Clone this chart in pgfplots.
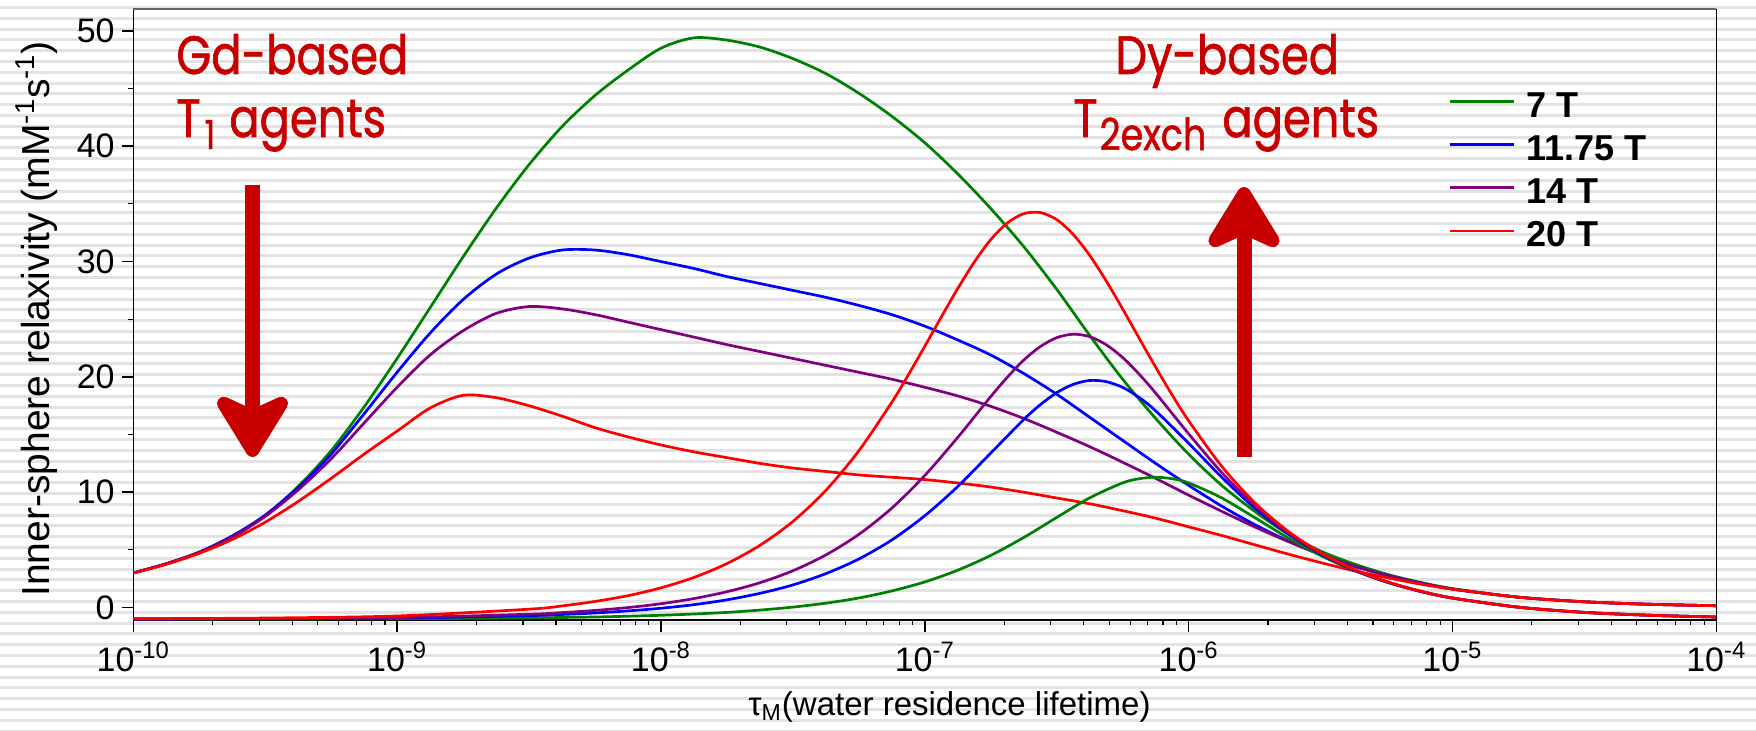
\documentclass[border=0pt]{standalone}
\usepackage{fontspec}
\setmainfont{Liberation Sans}
\newfontfamily\handfont[FakeStretch=0.83, FakeBold=1.2]{Poppins}
\usepackage{pgfplots}
\pgfplotsset{compat=1.18}
\usetikzlibrary{arrows.meta}

\definecolor{cG}{RGB}{0,128,0}
\definecolor{cB}{RGB}{0,0,255}
\definecolor{cP}{RGB}{128,0,128}
\definecolor{cR}{RGB}{255,0,0}
\definecolor{annot}{RGB}{200,0,0}
\definecolor{stripe}{RGB}{226,226,226}
\definecolor{topline}{RGB}{100,100,100}

% Gd-based (T1) relaxivity curves: tau_M  r
\pgfplotstableread{
t r
1e-10 3.0
1.334e-10 3.8
1.778e-10 4.8
2.371e-10 6.2
3.162e-10 8.0
4.217e-10 10.5
5.623e-10 13.6
7.499e-10 17.4
1e-9 21.6
1.334e-9 26.0
1.778e-9 30.4
2.371e-9 34.6
3.162e-9 38.4
4.217e-9 41.7
5.623e-9 44.4
7.499e-9 46.6
1e-8 48.5
1.334e-8 49.4
1.778e-8 49.2
2.371e-8 48.6
3.162e-8 47.6
4.217e-8 46.3
5.623e-8 44.6
7.499e-8 42.6
1e-7 40.3
1.334e-7 37.6
1.778e-7 34.6
2.371e-7 31.3
3.162e-7 27.6
4.217e-7 23.6
5.623e-7 19.8
7.499e-7 16.4
1e-6 13.3
1.334e-6 10.6
1.778e-6 8.35
2.371e-6 6.4
3.162e-6 4.9
4.217e-6 3.8
5.623e-6 2.9
7.499e-6 2.2
1e-5 1.65
1.778e-5 0.9
3.162e-5 0.5
5.623e-5 0.28
1e-4 0.16
}\gdSeven
\pgfplotstableread{
t r
1e-10 3.0
1.334e-10 3.8
1.778e-10 4.8
2.371e-10 6.2
3.162e-10 8.0
4.217e-10 10.4
5.623e-10 13.3
7.499e-10 16.8
1e-9 20.4
1.334e-9 23.8
1.778e-9 26.7
2.371e-9 28.9
3.162e-9 30.3
4.217e-9 31.0
5.623e-9 31.0
7.499e-9 30.6
1e-8 30.0
1.334e-8 29.4
1.778e-8 28.7
2.371e-8 28.1
3.162e-8 27.5
4.217e-8 26.9
5.623e-8 26.2
7.499e-8 25.4
1e-7 24.4
1.334e-7 23.2
1.778e-7 21.9
2.371e-7 20.3
3.162e-7 18.5
4.217e-7 16.5
5.623e-7 14.5
7.499e-7 12.5
1e-6 10.6
1.334e-6 8.8
1.778e-6 7.2
2.371e-6 5.8
3.162e-6 4.6
4.217e-6 3.6
5.623e-6 2.8
7.499e-6 2.15
1e-5 1.6
1.778e-5 0.9
3.162e-5 0.5
5.623e-5 0.28
1e-4 0.16
}\gdEleven
\pgfplotstableread{
t r
1e-10 3.0
1.334e-10 3.8
1.778e-10 4.8
2.371e-10 6.1
3.162e-10 7.9
4.217e-10 10.2
5.623e-10 12.9
7.499e-10 16.0
1e-9 19.1
1.334e-9 21.9
1.778e-9 24.0
2.371e-9 25.5
3.162e-9 26.1
4.217e-9 25.9
5.623e-9 25.4
7.499e-9 24.75
1e-8 24.1
1.334e-8 23.45
1.778e-8 22.8
2.371e-8 22.2
3.162e-8 21.6
4.217e-8 21.0
5.623e-8 20.4
7.499e-8 19.8
1e-7 19.1
1.334e-7 18.35
1.778e-7 17.45
2.371e-7 16.4
3.162e-7 15.2
4.217e-7 13.95
5.623e-7 12.6
7.499e-7 11.2
1e-6 9.75
1.334e-6 8.35
1.778e-6 7.0
2.371e-6 5.75
3.162e-6 4.6
4.217e-6 3.6
5.623e-6 2.8
7.499e-6 2.15
1e-5 1.6
1.778e-5 0.9
3.162e-5 0.5
5.623e-5 0.28
1e-4 0.16
}\gdFourteen
\pgfplotstableread{
t r
1e-10 3.0
1.334e-10 3.75
1.778e-10 4.7
2.371e-10 5.9
3.162e-10 7.4
4.217e-10 9.2
5.623e-10 11.2
7.499e-10 13.3
1e-9 15.3
1.334e-9 17.3
1.778e-9 18.4
2.371e-9 18.2
3.162e-9 17.5
4.217e-9 16.6
5.623e-9 15.6
7.499e-9 14.8
1e-8 14.1
1.334e-8 13.5
1.778e-8 13.0
2.371e-8 12.5
3.162e-8 12.1
4.217e-8 11.8
5.623e-8 11.5
7.499e-8 11.3
1e-7 11.1
1.334e-7 10.8
1.778e-7 10.45
2.371e-7 10.0
3.162e-7 9.5
4.217e-7 9.0
5.623e-7 8.4
7.499e-7 7.75
1e-6 7.0
1.334e-6 6.25
1.778e-6 5.45
2.371e-6 4.65
3.162e-6 3.9
4.217e-6 3.2
5.623e-6 2.6
7.499e-6 2.05
1e-5 1.6
1.778e-5 0.9
3.162e-5 0.5
5.623e-5 0.28
1e-4 0.16
}\gdTwenty

% Dy-based (T2 exchange) relaxivity curves: tau_M  r
\pgfplotstableread{
t r
1e-10 -1.0
3.162e-10 -0.99
1e-9 -0.97
3.162e-9 -0.90
4.217e-9 -0.86
5.623e-9 -0.82
7.499e-9 -0.75
1e-8 -0.67
1.334e-8 -0.56
1.778e-8 -0.42
2.371e-8 -0.22
3.162e-8 0.04
4.217e-8 0.38
5.623e-8 0.83
7.499e-8 1.44
1e-7 2.22
1.334e-7 3.24
1.778e-7 4.52
2.371e-7 6.07
3.162e-7 7.81
4.217e-7 9.51
5.623e-7 10.81
6.494e-7 11.17
7.499e-7 11.3
8.660e-7 11.17
1e-6 10.81
1.334e-6 9.51
1.778e-6 7.81
2.371e-6 6.07
3.162e-6 4.52
4.217e-6 3.24
5.623e-6 2.22
7.499e-6 1.44
1e-5 0.83
1.778e-5 0.04
3.162e-5 -0.42
5.623e-5 -0.67
1e-4 -0.82
}\dySeven
\pgfplotstableread{
t r
1e-10 -0.99
3.162e-10 -0.97
1e-9 -0.91
3.162e-9 -0.70
4.217e-9 -0.60
5.623e-9 -0.47
7.499e-9 -0.29
1e-8 -0.06
1.334e-8 0.25
1.778e-8 0.67
2.371e-8 1.23
3.162e-8 1.96
4.217e-8 2.94
5.623e-8 4.21
7.499e-8 5.86
1e-7 7.96
1.334e-7 10.5
1.778e-7 13.39
2.371e-7 16.30
2.738e-7 17.58
3.162e-7 18.63
3.652e-7 19.35
4.217e-7 19.69
4.870e-7 19.59
5.623e-7 19.09
6.494e-7 18.22
7.499e-7 17.06
1e-6 14.25
1.334e-6 11.31
1.778e-6 8.64
2.371e-6 6.42
3.162e-6 4.65
4.217e-6 3.27
5.623e-6 2.22
7.499e-6 1.42
1e-5 0.82
1.778e-5 0.03
3.162e-5 -0.42
5.623e-5 -0.67
1e-4 -0.82
}\dyEleven
\pgfplotstableread{
t r
1e-10 -0.99
3.162e-10 -0.96
1e-9 -0.87
3.162e-9 -0.58
4.217e-9 -0.44
5.623e-9 -0.25
7.499e-9 0.0
1e-8 0.33
1.334e-8 0.78
1.778e-8 1.37
2.371e-8 2.15
3.162e-8 3.19
4.217e-8 4.56
5.623e-8 6.34
7.499e-8 8.62
1e-7 11.45
1.334e-7 14.76
1.778e-7 18.29
2.054e-7 19.96
2.371e-7 21.45
2.738e-7 22.62
3.162e-7 23.40
3.652e-7 23.70
4.217e-7 23.49
4.870e-7 22.79
5.623e-7 21.68
6.494e-7 20.24
7.499e-7 18.6
1e-6 15.07
1.334e-6 11.72
1.778e-6 8.85
2.371e-6 6.52
3.162e-6 4.70
4.217e-6 3.30
5.623e-6 2.24
7.499e-6 1.43
1e-5 0.83
1.778e-5 0.03
3.162e-5 -0.42
5.623e-5 -0.67
1e-4 -0.82
}\dyFourteen
\pgfplotstableread{
t r
1e-10 -0.97
3.162e-10 -0.91
1e-9 -0.73
3.162e-9 -0.14
4.217e-9 0.14
5.623e-9 0.53
7.499e-9 1.03
1e-8 1.71
1.334e-8 2.61
1.778e-8 3.81
2.371e-8 5.39
3.162e-8 7.46
4.217e-8 10.16
5.623e-8 13.59
7.499e-8 17.80
8.660e-8 20.17
1e-7 22.65
1.155e-7 25.19
1.334e-7 27.67
1.540e-7 29.95
1.778e-7 31.90
2.054e-7 33.34
2.371e-7 34.15
2.738e-7 34.25
3.162e-7 33.64
3.652e-7 32.36
4.217e-7 30.54
4.870e-7 28.33
5.623e-7 25.89
6.494e-7 23.36
7.499e-7 20.85
8.660e-7 18.44
1e-6 16.2
1.334e-6 12.26
1.778e-6 9.11
2.371e-6 6.65
3.162e-6 4.77
4.217e-6 3.34
5.623e-6 2.26
7.499e-6 1.44
1e-5 0.83
1.778e-5 0.03
3.162e-5 -0.42
5.623e-5 -0.67
1e-4 -0.82
}\dyTwenty

\begin{document}
\begin{tikzpicture}[x=1pt,y=1pt]
\useasboundingbox (0,0) rectangle (878,365);
\fill[white] (0,0) rectangle (878,365);
% striped backdrop
\foreach \k in {0,...,67}{
  \fill[stripe] (0,{365-3.0-5.4*\k}) rectangle (878,{365-4.5-5.4*\k});
}

\begin{axis}[
  at={(66.65pt,55pt)}, anchor=south west,
  scale only axis, width=791.5pt, height=305.5pt,
  xmode=log, xmin=1e-10, xmax=1e-4,
  ymin=-1.08, ymax=51.9,
  axis x line*=bottom, axis y line*=left,
  x axis line style={-, line width=0.85pt, black},
  y axis line style={-, line width=0.75pt, black},
  tick align=outside,
  major tick length=5.85pt, minor tick length=2.5pt,
  every tick/.style={black, line width=0.75pt},
  every minor tick/.append style={line width=0.55pt},
  xtick={1e-10,1e-9,1e-8,1e-7,1e-6,1e-5,1e-4},
  xticklabels={10\textsuperscript{-10},10\textsuperscript{-9},10\textsuperscript{-8},10\textsuperscript{-7},10\textsuperscript{-6},10\textsuperscript{-5},10\textsuperscript{-4}},
  ytick={0,10,20,30,40,50},
  minor ytick={5,15,25,35,45},
  /pgf/number format/assume math mode=true,
  tick label style={font=\fontsize{17}{17}\selectfont},
  xticklabel style={anchor=north, inner sep=0pt, yshift=-5pt},
  yticklabel style={anchor=east, inner sep=0pt, xshift=-3.3pt},
  xlabel={τ\textsubscript{M}(water residence lifetime)},
  every axis x label/.style={at={(rel axis cs:0.3843,0)}, anchor=base west, yshift=-47.5pt, font=\fontsize{16.5}{16.5}\selectfont},
  ylabel={Inner-sphere relaxivity (mM\textsuperscript{-1}s\textsuperscript{-1})},
  every axis y label/.style={at={([xshift=-41.85pt]rel axis cs:0,0.493)}, rotate=90, anchor=base, font=\fontsize{19.5}{19.5}\selectfont},
  legend style={at={(rel axis cs:0.8311,0.8658)}, anchor=north west, draw=none, fill=none,
    inner sep=0pt, outer sep=0pt, row sep=8.6pt, column sep=5.5pt,
    font=\bfseries\fontsize{18}{18}\selectfont,
    nodes={inner sep=0pt, text height=13pt, text depth=0pt}},
  legend cell align=left,
  legend image code/.code={\draw[#1, line width=1.35pt] (0pt,1.3pt) -- (32pt,1.3pt);},
  clip=false,
]
\addplot[cG, line width=1.35pt, smooth] table[x=t, y=r] {\gdSeven};
\addlegendentry{7 T}
\addplot[cB, line width=1.35pt, smooth] table[x=t, y=r] {\gdEleven};
\addlegendentry{11.75 T}
\addplot[cP, line width=1.35pt, smooth] table[x=t, y=r] {\gdFourteen};
\addlegendentry{14 T}
\addplot[cR, line width=1.35pt, smooth] table[x=t, y=r] {\gdTwenty};
\addlegendentry{20 T}
\addplot[cG, line width=1.35pt, smooth, forget plot] table[x=t, y=r] {\dySeven};
\addplot[cB, line width=1.35pt, smooth, forget plot] table[x=t, y=r] {\dyEleven};
\addplot[cP, line width=1.35pt, smooth, forget plot] table[x=t, y=r] {\dyFourteen};
\addplot[cR, line width=1.35pt, smooth, forget plot] table[x=t, y=r] {\dyTwenty};
% frame: grey top edge, thin right edge
\draw[topline, line width=0.85pt] (rel axis cs:0,1) -- (rel axis cs:1,1);
\draw[black, line width=0.5pt] (rel axis cs:1,0) -- (rel axis cs:1,1);
\end{axis}

% annotations
\node[anchor=base west, inner sep=0pt, text=annot, font=\handfont\fontsize{27}{27}\selectfont] at (88,328) {Gd-based};
\node[anchor=base west, inner sep=0pt, text=annot, font=\handfont\fontsize{27}{27}\selectfont] at (88,296.5) {T\hspace{2pt}\raisebox{-6pt}{\fontsize{20}{20}\selectfont 1}\hspace{7pt}agents};
\node[anchor=base west, inner sep=0pt, text=annot, font=\handfont\fontsize{27}{27}\selectfont] at (557.5,328) {Dy-based};
\node[anchor=base west, inner sep=0pt, text=annot, font=\handfont\fontsize{27}{27}\selectfont] at (536.5,296.5) {T\hspace{1pt}\raisebox{-6.5pt}{\fontsize{22}{22}\selectfont 2exch}\hspace{8pt}agents};
\draw[annot, line width=7.5pt, -{Stealth[length=37pt, width=45pt, inset=10pt, round]}] (126.25,272.5) -- (126.25,136.5);
\draw[annot, line width=7.5pt, -{Stealth[length=37pt, width=45pt, inset=10pt, round]}] (622,136.5) -- (622,271.5);
\end{tikzpicture}
\end{document}
